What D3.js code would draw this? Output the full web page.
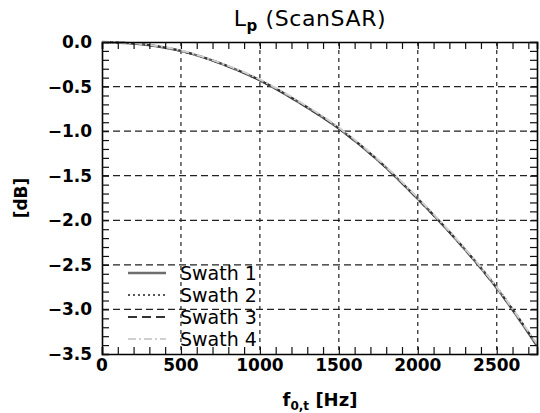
<!DOCTYPE html>
<html>
<head>
<meta charset="utf-8">
<script src="https://cdn.jsdelivr.net/npm/d3@7"></script>
<style>
  body { margin: 0; background: #fff; }
  svg text { font-family: "DejaVu Sans", sans-serif; fill: #000; }
</style>
</head>
<body>
<svg id="chart" width="540" height="413"></svg>
<script>
// doppler frequency [Hz]
var freq = [0, 250, 500, 750, 1000, 1250, 1500, 1750, 2000, 2250, 2500, 2755];
// loss per swath [dB] (all four lie on top of each other)
var swath1 = [0, -0.025, -0.10, -0.24, -0.43, -0.68, -0.97, -1.33, -1.76, -2.23, -2.76, -3.41];
var swath2 = [0, -0.025, -0.10, -0.24, -0.43, -0.68, -0.97, -1.33, -1.76, -2.23, -2.75, -3.40];
var swath3 = [0, -0.025, -0.10, -0.24, -0.43, -0.68, -0.97, -1.33, -1.76, -2.23, -2.76, -3.40];
var swath4 = [0, -0.022, -0.095, -0.235, -0.42, -0.67, -0.96, -1.32, -1.75, -2.22, -2.75, -3.39];
var seriesNames = ["Swath 1", "Swath 2", "Swath 3", "Swath 4"];
var xTicks = [0, 500, 1000, 1500, 2000, 2500];
var yTicks = [0, -0.5, -1.0, -1.5, -2.0, -2.5, -3.0, -3.5];

var svg = d3.select("#chart");
var margin = {left: 102, right: 3, top: 42, bottom: 59};
var W = 540, H = 413;

var x = d3.scaleLinear().domain([0, 2755]).range([margin.left, W - margin.right]);
var y = d3.scaleLinear().domain([0, -3.5]).range([margin.top, H - margin.bottom]);

var styles = [
  {stroke: "#6e6e6e", width: 2.4, dash: null},
  {stroke: "#555", width: 2, dash: "2,3"},
  {stroke: "#333", width: 2, dash: "9,5"},
  {stroke: "#cfcfcf", width: 2, dash: "8,3,2,3"}
];

/* grid */
var grid = svg.append("g");
grid.selectAll("line.vg").data(xTicks.slice(1)).enter().append("line")
  .attr("x1", x).attr("x2", x)
  .attr("y1", y(0)).attr("y2", y(-3.5))
  .attr("stroke", "#222").attr("stroke-width", 1.2)
  .attr("stroke-dasharray", "4,4");
grid.selectAll("line.hg").data(yTicks.slice(1, -1)).enter().append("line")
  .attr("y1", y).attr("y2", y)
  .attr("x1", x(0)).attr("x2", x(2755))
  .attr("stroke", "#222").attr("stroke-width", 1.2)
  .attr("stroke-dasharray", "7,4");

/* curves */
var line = d3.line()
  .x(function(d, i) { return x(freq[i]); })
  .y(function(d) { return y(d); })
  .curve(d3.curveMonotoneX);

[swath1, swath2, swath3, swath4].forEach(function(s, i) {
  svg.append("path")
    .datum(s)
    .attr("d", line)
    .attr("fill", "none")
    .attr("stroke", styles[i].stroke)
    .attr("stroke-width", styles[i].width)
    .attr("stroke-dasharray", styles[i].dash);
});

/* axes: ticks inward on all four sides, IDL style */
var xMinor = d3.range(0, 2756, 100);
var yMinor = d3.range(0, 36).map(function(v) { return -v / 10; });

function addAxis(axis, pos) {
  return svg.append("g").attr("transform", pos).call(axis)
    .call(function(g) { g.select(".domain").attr("stroke-width", 1.6); });
}

addAxis(d3.axisBottom(x).tickValues(xMinor).tickSize(-7).tickFormat(""),
  "translate(0," + y(-3.5) + ")");
addAxis(d3.axisTop(x).tickValues(xMinor).tickSize(-7).tickFormat(""),
  "translate(0," + y(0) + ")");
addAxis(d3.axisLeft(y).tickValues(yMinor).tickSize(-7).tickFormat(""),
  "translate(" + x(0) + ",0)");
addAxis(d3.axisRight(y).tickValues(yMinor).tickSize(-7).tickFormat(""),
  "translate(" + x(2755) + ",0)");
svg.selectAll(".tick line").attr("stroke", "#111").attr("stroke-width", 1.2);

/* tick labels */
svg.append("g").selectAll("text").data(xTicks).enter().append("text")
  .attr("x", x).attr("y", 371)
  .attr("text-anchor", "middle")
  .style("font-size", "17px").style("font-weight", "bold")
  .text(function(d) { return d; });
svg.append("g").selectAll("text").data(yTicks).enter().append("text")
  .attr("x", 92).attr("y", function(d) { return y(d) + 6; })
  .attr("text-anchor", "end")
  .style("font-size", "17px").style("font-weight", "bold")
  .text(function(d) { return d3.format(".1f")(d).replace("-", "\u2212"); });

/* titles */
var title = svg.append("text").attr("x", 310).attr("y", 26)
  .attr("text-anchor", "middle").style("font-size", "22px")
  .style("letter-spacing", "0.6px");
title.append("tspan").text("L");
title.append("tspan").attr("dy", 5).style("font-size", "15px").style("font-weight", "bold").text("p");
title.append("tspan").attr("dy", -5).text(" (ScanSAR)");

var xt = svg.append("text").attr("x", 320).attr("y", 406)
  .attr("text-anchor", "middle").style("font-size", "18px").style("font-weight", "bold");
xt.append("tspan").text("f");
xt.append("tspan").attr("dy", 4).style("font-size", "12px").text("0,t");
xt.append("tspan").attr("dy", -4).text(" [Hz]");

svg.append("text")
  .attr("transform", "translate(27,198) rotate(-90)")
  .attr("text-anchor", "middle")
  .style("font-size", "17px").style("font-weight", "bold")
  .text("[dB]");

/* legend */
var legY = [273, 295, 317, 339];
var leg = svg.append("g");
seriesNames.forEach(function(name, i) {
  leg.append("line")
    .attr("x1", 128).attr("x2", 166)
    .attr("y1", legY[i]).attr("y2", legY[i])
    .attr("stroke", styles[i].stroke)
    .attr("stroke-width", styles[i].width)
    .attr("stroke-dasharray", styles[i].dash);
  leg.append("text")
    .attr("x", 180).attr("y", legY[i] + 7)
    .style("font-size", "19px")
    .text(name);
});
</script>
</body>
</html>
